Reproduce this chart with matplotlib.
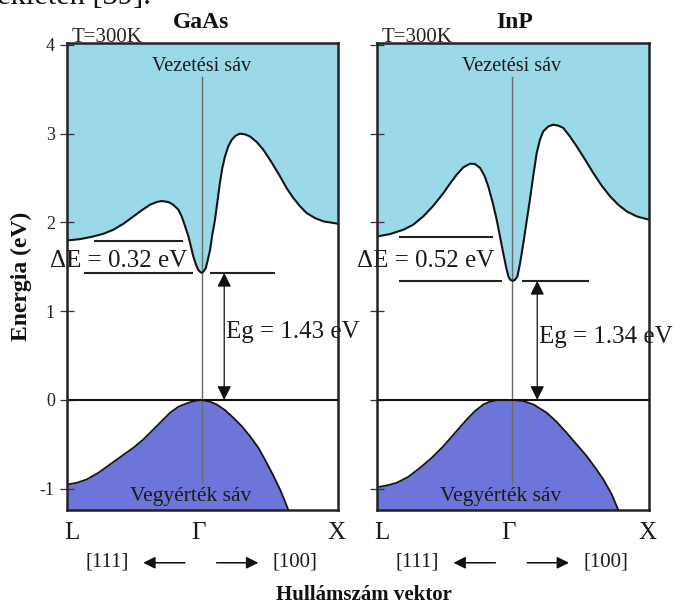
import matplotlib
matplotlib.use('Agg')
import matplotlib.pyplot as plt

plt.rcParams['font.family'] = ['Liberation Serif', 'DejaVu Serif']

# ---------------- data ----------------
materials = ['GaAs', 'InP']
temperature_label = 'T=300K'
ytick_values = [-1, 0, 1, 2, 3, 4]
ytick_labels = ['-1', '0', '1', '2', '3', '4']
k_point_labels = ['L', '\u0393', 'X']
direction_labels = ['[111]', '[100]']

gaas_k_c = [0.0, 0.047, 0.096, 0.133, 0.170, 0.207, 0.244, 0.274, 0.305, 0.330, 0.348,
            0.373, 0.391, 0.410, 0.422, 0.434, 0.447, 0.456, 0.465, 0.475, 0.483, 0.490,
            0.496, 0.503, 0.511, 0.518, 0.527, 0.535, 0.545, 0.554, 0.563, 0.572, 0.582,
            0.594, 0.607, 0.621, 0.637, 0.656, 0.674, 0.699, 0.723, 0.754, 0.785, 0.809,
            0.834, 0.859, 0.883, 0.914, 0.945, 1.0]
gaas_E_c = [1.796, 1.811, 1.841, 1.871, 1.917, 1.984, 2.067, 2.134, 2.198, 2.229, 2.240,
            2.229, 2.198, 2.142, 2.067, 1.962, 1.841, 1.729, 1.616, 1.522, 1.466, 1.443,
            1.430, 1.447, 1.485, 1.571, 1.691, 1.860, 2.029, 2.236, 2.443, 2.612, 2.743,
            2.856, 2.931, 2.976, 2.999, 2.991, 2.968, 2.905, 2.819, 2.676, 2.518, 2.387,
            2.274, 2.180, 2.105, 2.048, 2.011, 1.984]
gaas_k_v = [0.0, 0.0345, 0.0715, 0.1145, 0.1576, 0.2006, 0.2437, 0.2806, 0.3175, 0.3482,
            0.379, 0.4097, 0.4405, 0.465, 0.496, 0.5266, 0.551, 0.582, 0.6127, 0.6434,
            0.674, 0.705, 0.7357, 0.760, 0.785, 0.803, 0.8156]
gaas_E_v = [-0.953, -0.934, -0.896, -0.821, -0.727, -0.633, -0.539, -0.445, -0.333, -0.239,
            -0.145, -0.077, -0.039, -0.015, 0.0, -0.020, -0.051, -0.115, -0.201, -0.295,
            -0.408, -0.539, -0.708, -0.851, -1.009, -1.141, -1.24]

inp_k_c = [0.0, 0.0467, 0.096, 0.132, 0.169, 0.206, 0.243, 0.267, 0.292, 0.316, 0.341,
           0.359, 0.378, 0.394, 0.408, 0.424, 0.439, 0.451, 0.463, 0.473, 0.482, 0.489,
           0.498, 0.506, 0.515, 0.525, 0.537, 0.549, 0.561, 0.574, 0.586, 0.598, 0.610,
           0.629, 0.647, 0.666, 0.684, 0.708, 0.733, 0.764, 0.794, 0.825, 0.856, 0.886,
           0.917, 0.954, 1.0]
inp_E_c = [1.841, 1.868, 1.917, 1.973, 2.067, 2.187, 2.330, 2.435, 2.537, 2.619, 2.661,
           2.657, 2.612, 2.525, 2.405, 2.225, 2.029, 1.841, 1.653, 1.503, 1.390, 1.353,
           1.340, 1.353, 1.390, 1.541, 1.767, 2.011, 2.255, 2.537, 2.781, 2.931, 3.025,
           3.081, 3.100, 3.089, 3.063, 2.968, 2.856, 2.706, 2.556, 2.413, 2.292, 2.198,
           2.123, 2.067, 2.029]
inp_k_v = [0.0, 0.0344, 0.0712, 0.114, 0.157, 0.200, 0.243, 0.286, 0.329, 0.359, 0.390,
           0.414, 0.445, 0.500, 0.537, 0.574, 0.623, 0.659, 0.696, 0.733, 0.770, 0.806,
           0.831, 0.862, 0.886]
inp_E_v = [-0.983, -0.964, -0.934, -0.866, -0.765, -0.652, -0.521, -0.370, -0.220, -0.126,
           -0.051, -0.020, 0.0, 0.0, -0.013, -0.051, -0.145, -0.246, -0.370, -0.502,
           -0.634, -0.784, -0.896, -1.065, -1.24]

gap_values = [1.43, 1.34]          # Eg (eV)
delta_values = [0.32, 0.52]        # Delta E (eV)
satellite_levels = [1.79, 1.84]    # L-valley level drawn (eV)

# ---------------- layout / style ----------------
W, H = 676, 607
fig = plt.figure(figsize=(W / 100, H / 100), dpi=100)


def fx(px):
    return px / W


def fy(py):
    return 1 - py / H


YMIN, YMAX = -1.24, 4.02
CB = '#9BD9E8'
VB = '#6D76D8'
TOP_PX, BOT_PX = 43, 510

panel_cfg = [
    dict(left=67.3, width=271, gamma=0.496, k_c=gaas_k_c, E_c=gaas_E_c, k_v=gaas_k_v, E_v=gaas_E_v,
         up_line=(0.103, 0.422), low_line=(0.065, 0.459), right_line=(0.529, 0.764),
         arrow_x=0.579, dE_x=0.19, eg_x=0.585, eg_y=0.76, vb_x=0.456, title_px=201),
    dict(left=377.3, width=272, gamma=0.494, k_c=inp_k_c, E_c=inp_E_c, k_v=inp_k_v, E_v=inp_E_v,
         up_line=(0.083, 0.42), low_line=(0.083, 0.454), right_line=(0.537, 0.774),
         arrow_x=0.588, dE_x=0.179, eg_x=0.594, eg_y=0.71, vb_x=0.453, title_px=515),
]

for i, p in enumerate(panel_cfg):
    ax = fig.add_axes([fx(p['left']), fy(BOT_PX), p['width'] / W, (BOT_PX - TOP_PX) / H])
    ax.set_xlim(0, 1)
    ax.set_ylim(YMIN, YMAX)
    g = p['gamma']

    ax.fill_between(p['k_c'], p['E_c'], YMAX, color=CB, lw=0, zorder=1)
    ax.fill_between(p['k_v'], YMIN, p['E_v'], color=VB, lw=0, zorder=1)
    ax.plot([g, g], [-0.93, 3.64], color='#6a6a6a', lw=1.0, zorder=2)
    ax.plot(p['k_c'], p['E_c'], color='#151515', lw=1.5, zorder=3,
            solid_joinstyle='round', solid_capstyle='round')
    ax.plot(p['k_v'], p['E_v'], color='#151515', lw=1.3, zorder=3,
            solid_joinstyle='round', solid_capstyle='round')
    ax.axhline(0, color='#111111', lw=1.5, zorder=3)

    Eg = gap_values[i]
    EL = satellite_levels[i]
    ax.plot(p['up_line'], [EL, EL], color='#222222', lw=1.5, zorder=3)
    ax.plot(p['low_line'], [Eg, Eg], color='#222222', lw=1.5, zorder=3)
    ax.plot(p['right_line'], [Eg, Eg], color='#222222', lw=1.5, zorder=3)
    ax.annotate('', xy=(p['arrow_x'], 0), xytext=(p['arrow_x'], Eg),
                arrowprops=dict(arrowstyle='<|-|>', color='#111111', lw=0.9,
                                mutation_scale=21, shrinkA=0, shrinkB=0), zorder=4)

    ax.text(p['dE_x'], 1.56, '\u0394E = %.2f eV' % delta_values[i], ha='center', va='center',
            fontsize=18, color='#1a1a1a', clip_on=False, zorder=5)
    ax.text(p['eg_x'], p['eg_y'], 'Eg = %.2f eV' % Eg, ha='left', va='center',
            fontsize=18, color='#1a1a1a', clip_on=False, zorder=5)
    ax.text(g, 3.75, 'Vezetési sáv', ha='center', va='center', fontsize=14.5, color='#1a1a1a')
    ax.text(p['vb_x'], -1.085, 'Vegyérték sáv', ha='center', va='center', fontsize=15.5,
            color='#1a1a1a')

    ax.set_xticks([])
    ax.set_yticks(ytick_values)
    ax.set_yticklabels(ytick_labels)
    ax.tick_params(axis='y', direction='inout', length=10, width=0.9, color='#333333',
                   labelsize=13, pad=4, labelleft=(i == 0), labelcolor='#222222')
    for s in ax.spines.values():
        s.set_linewidth(1.8)
        s.set_color('#222222')
        s.set_zorder(6)

    # k-point labels
    tr = ax.get_xaxis_transform()
    kx = [0.016, g - 0.012, 0.994]
    for xx, lab in zip(kx, k_point_labels):
        ax.text(xx, -0.049, lab, transform=tr, ha='center', va='center', fontsize=18,
                color='#1a1a1a', clip_on=False)
    ax.text(0.146, -0.111, direction_labels[0], transform=tr, ha='center', va='center',
            fontsize=15, color='#1a1a1a', clip_on=False)
    ax.text(0.840, -0.111, direction_labels[1], transform=tr, ha='center', va='center',
            fontsize=15, color='#1a1a1a', clip_on=False)
    ax.annotate('', xy=(0.280, -0.113), xytext=(0.434, -0.113), xycoords=tr, textcoords=tr,
                arrowprops=dict(arrowstyle='-|>', color='#111111', lw=1.1, mutation_scale=18,
                                shrinkA=0, shrinkB=0), annotation_clip=False)
    ax.annotate('', xy=(0.705, -0.113), xytext=(0.551, -0.113), xycoords=tr, textcoords=tr,
                arrowprops=dict(arrowstyle='-|>', color='#111111', lw=1.1, mutation_scale=18,
                                shrinkA=0, shrinkB=0), annotation_clip=False)

    fig.text(fx(p['title_px']), fy(22), materials[i], ha='center', va='center',
             fontsize=17, fontweight='bold', color='#111111')
    fig.text(fx(p['left'] + 4), fy(41.5), temperature_label, ha='left', va='baseline',
             fontsize=15, color='#222222')

fig.text(fx(21.7), fy(276), 'Energia (eV)', rotation=90, ha='center', va='center',
         fontsize=17, fontweight='bold', color='#111111')
fig.text(fx(364), fy(595), 'Hullámszám vektor', ha='center', va='center',
         fontsize=15, fontweight='bold', color='#111111')
fig.text(fx(-3), fy(4), 'ékleten [39].', ha='left', va='baseline', fontsize=22, color='#111111')

fig.savefig('out.png', dpi=100)
